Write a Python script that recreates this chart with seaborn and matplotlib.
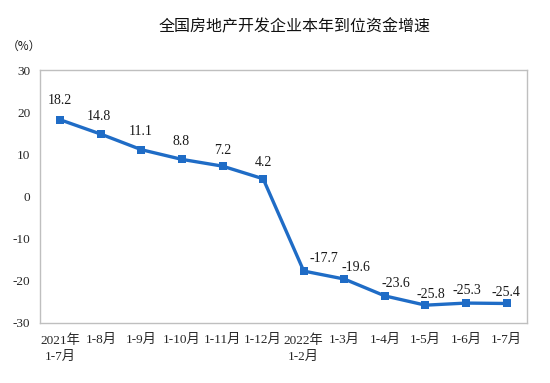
import matplotlib
matplotlib.use("Agg")
import matplotlib.pyplot as plt
import seaborn as sns
import pandas as pd
import numpy as np

# ======================
# DATA
# ======================
periods = ["2021年\n1-7月", "1-8月", "1-9月", "1-10月", "1-11月", "1-12月",
           "2022年\n1-2月", "1-3月", "1-4月", "1-5月", "1-6月", "1-7月"]
growth = [18.2, 14.8, 11.1, 8.8, 7.2, 4.2, -17.7, -19.6, -23.6, -25.8, -25.3, -25.4]
yticks = [30, 20, 10, 0, -10, -20, -30]

TITLE = "全国房地产开发企业本年到位资金增速"
UNIT = "（%）"

# label offsets in pixels (dx, dy up)
label_off = [(0, 19), (-2, 18), (-1, 18), (-1, 18), (0, 16), (0, 16),
             (20, 13), (12, 12), (11, 12), (5, 11), (1, 13), (-1, 11)]

LINE = "#1f6cc6"
GRID = "#bfbfbf"

# ======================
# PLOT
# ======================
sns.set_theme(style="white")
plt.rcParams['font.family'] = ['Liberation Serif', 'Noto Sans CJK SC', 'DejaVu Sans']

df = pd.DataFrame({"period": periods, "growth": growth})
df["pos"] = np.arange(len(df))

fig = plt.figure(figsize=(5.5, 3.83), dpi=100)
ax = fig.add_axes([0.0727, 0.157, 0.958 - 0.0727, 0.817 - 0.157])

sns.lineplot(data=df, x="pos", y="growth", ax=ax, color=LINE, linewidth=2.4,
             marker="s", markersize=5.5, markeredgewidth=0, markerfacecolor=LINE)

for i, v in enumerate(growth):
    dx, dy = label_off[i]
    ax.annotate(f"{v:.1f}", (df["pos"][i], v), xytext=(dx * 0.72, dy * 0.72),
                textcoords="offset points", ha="center", va="center",
                fontsize=10, color="#1a1a1a", family=['Liberation Serif'])

ax.set_xlim(-0.5, len(periods) - 0.5)
ax.set_ylim(-30, 30)
ax.set_yticks(yticks)
ax.set_yticklabels([str(t) for t in yticks], fontsize=9.5, family=['Liberation Serif'])
ax.set_xticks(df["pos"])
ax.set_xticklabels(periods, fontsize=9.5, linespacing=1.5,
                   family=['Liberation Serif', 'Noto Sans CJK SC'])
ax.set_xticks(np.arange(0.5, len(periods) - 1, 1), minor=True)
ax.tick_params(axis="x", which="major", length=0, pad=8)
ax.tick_params(axis="x", which="minor", direction="in", length=4, color=GRID, width=0.8)
ax.tick_params(axis="y", direction="out", length=3, color=GRID, width=0.8, pad=4)
for lab in ax.get_xticklabels():
    lab.set_verticalalignment("top")

for s in ax.spines.values():
    s.set_color(GRID)
    s.set_linewidth(1.0)

ax.set_xlabel("")
ax.set_ylabel("")
ax.grid(False)

fig.text(0.536, 0.93, TITLE, ha="center", va="center", fontsize=11.5,
         family=['Noto Sans CJK SC'], fontweight="normal", color="#111111")
fig.text(0.043, 0.88, UNIT, ha="center", va="center", fontsize=8.5,
         family=['Noto Sans CJK SC', 'Liberation Serif'], color="#1a1a1a")

fig.savefig("out.png", dpi=100)
